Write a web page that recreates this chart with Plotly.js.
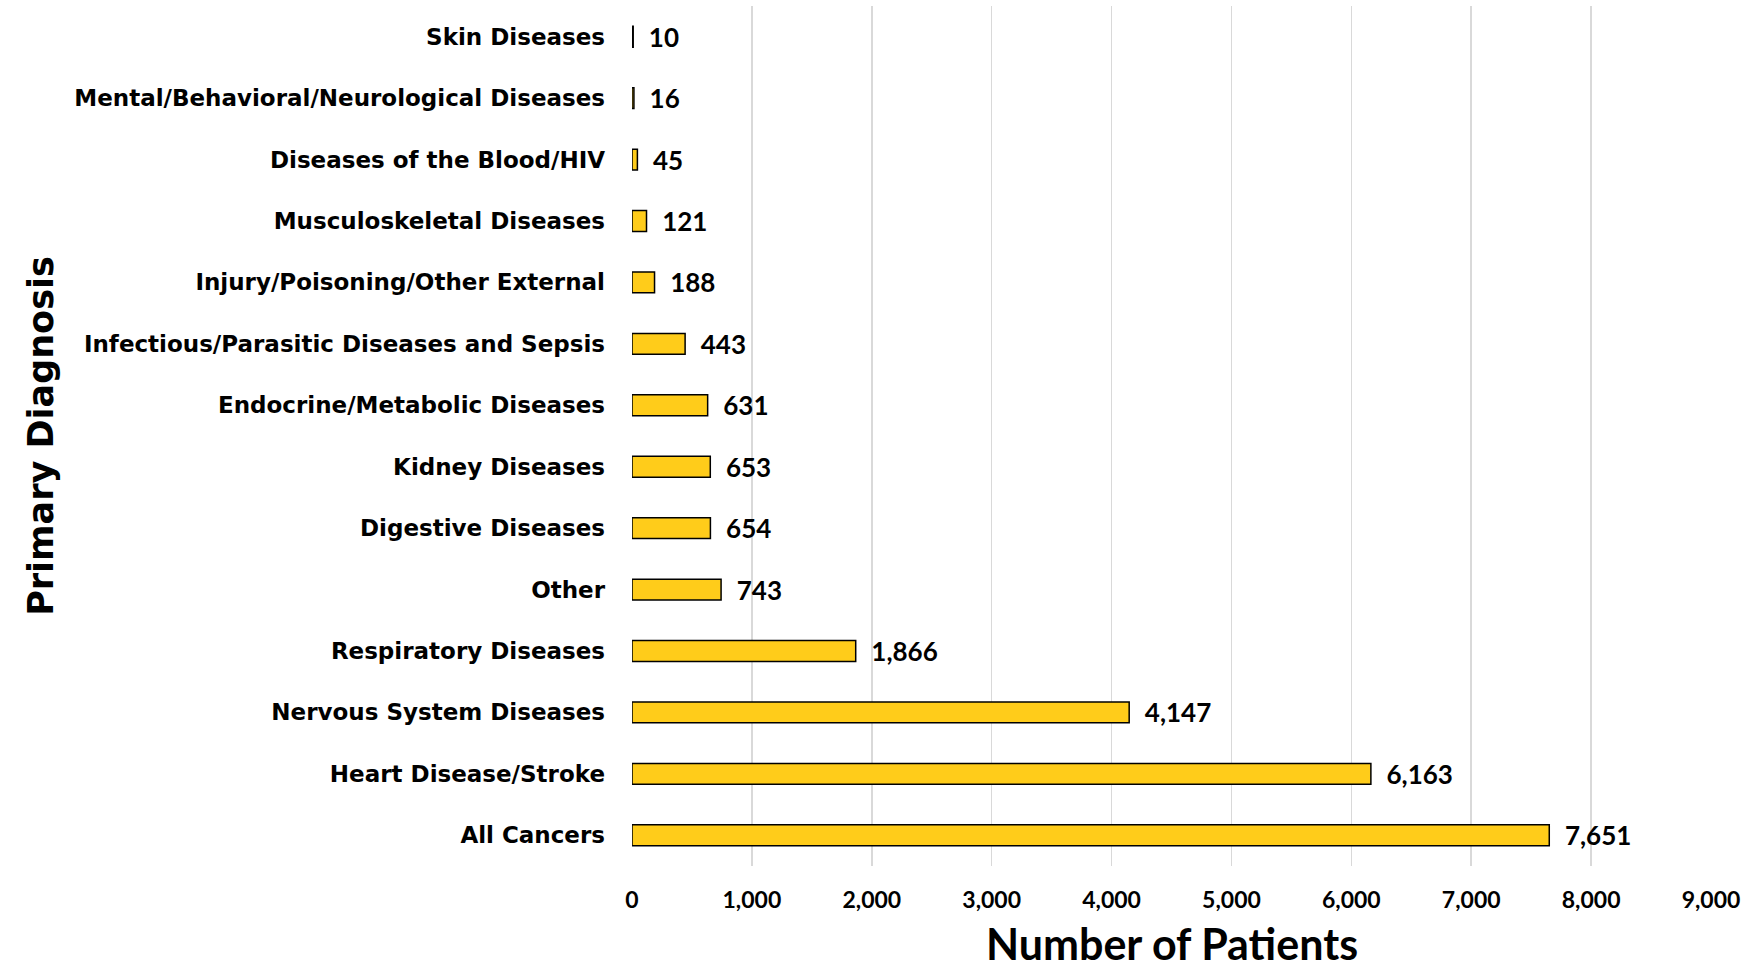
<!DOCTYPE html>
<html><head><meta charset="utf-8">
<script src="https://cdn.plot.ly/plotly-3.0.1.min.js"></script>
<style>html,body{margin:0;padding:0;background:#fff;}#chart{width:1750px;height:965px;}</style>
</head><body><div id="chart"></div>
<script>
const categories = ["All Cancers","Heart Disease/Stroke","Nervous System Diseases","Respiratory Diseases","Other","Digestive Diseases","Kidney Diseases","Endocrine/Metabolic Diseases","Infectious/Parasitic Diseases and Sepsis","Injury/Poisoning/Other External","Musculoskeletal Diseases","Diseases of the Blood/HIV","Mental/Behavioral/Neurological Diseases","Skin Diseases"];
const patients = [7651,6163,4147,1866,743,654,653,631,443,188,121,45,16,10];
const xTicks = [0,1000,2000,3000,4000,5000,6000,7000,8000,9000];
const xTickLabels = ["0","1,000","2,000","3,000","4,000","5,000","6,000","7,000","8,000","9,000"];
const xTitle = "Number of Patients";
const yTitle = "Primary Diagnosis";

const LATO = "Lato, 'DejaVu Sans', sans-serif";
const DEJA = "'DejaVu Sans', sans-serif";
Plotly.newPlot('chart', [{
  type:'bar', orientation:'h', y:categories, x:patients,
  marker:{color:'#FFCC1A', line:{color:'#000', width:1.5}},
  texttemplate:'\u00a0\u00a0%{x:,}', textposition:'outside', cliponaxis:false,
  constraintext:'none',
  textfont:{family:LATO, size:26, color:'#000', weight:'bold'},
  width:0.34
}], {
  width:1750, height:965,
  margin:{l:632, r:39, t:6, b:99},
  paper_bgcolor:'#fff', plot_bgcolor:'#fff',
  showlegend:false,
  font:{family:LATO, color:'#000'},
  xaxis:{range:[0,9000], tickvals:xTicks, ticktext:xTickLabels,
    showgrid:true, gridcolor:'#d9d9d9', gridwidth:1.5, zeroline:false, showline:false,
    ticks:'', ticklabelstandoff:18,
    tickfont:{family:LATO, size:23, weight:'bold', color:'#000'}},
  yaxis:{type:'category', range:[-0.5,13.5], showgrid:false, showline:false, zeroline:false, ticks:'',
    ticklabelstandoff:26,
    tickfont:{family:DEJA, size:23, weight:'bold', color:'#000'},
    title:{text:yTitle, font:{family:DEJA, size:35, weight:'bold', color:'#000'}, standoff:10}},
  annotations:[{text:xTitle, xref:'paper', yref:'paper', x:0.5, y:-0.09, xanchor:'center', yanchor:'middle',
    showarrow:false, font:{family:LATO, size:43, weight:'bold', color:'#000'}}]
}, {displayModeBar:false, staticPlot:true});
</script></body></html>
